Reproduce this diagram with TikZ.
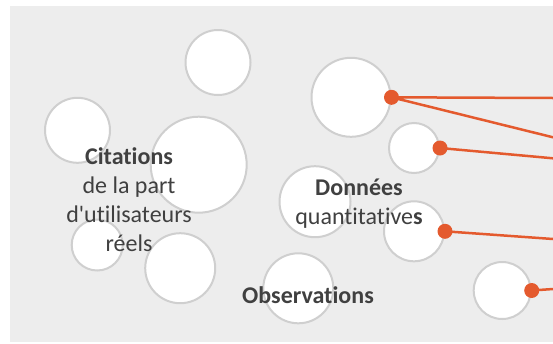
\documentclass[tikz,border=0pt]{standalone}
\usepackage{fontspec}
\setmainfont{Carlito}[Ligatures=NoCommon]
\usetikzlibrary{positioning}
\definecolor{fond}{HTML}{EDEDED}
\definecolor{bord}{HTML}{CFCFCF}
\definecolor{rouille}{HTML}{E45A2E}
\definecolor{texte}{HTML}{404040}
\tikzstyle{bulle}=[circle,draw=bord,fill=white,line width=2pt,inner sep=0pt]
\tikzstyle{point}=[circle,fill=rouille,inner sep=0pt,minimum size=15pt]
\tikzstyle{lien}=[draw=rouille,line width=2.5pt,line cap=round]
\tikzstyle{etiq}=[text=texte,font=\fontsize{24}{29}\selectfont,align=center,anchor=base,inner sep=0pt]

\begin{document}
\begin{tikzpicture}[x=1pt,y=-1pt]
  \useasboundingbox (0,0) rectangle (553,343);
  \fill[fond] (10,6) rectangle (553,342);
  %
  \node[bulle,minimum size=65pt] (b1) at (218,62.5) {};
  \node[bulle,minimum size=65pt] (b2) at (77.5,130.3) {};
  \node[bulle,minimum size=96pt] (b3) at (198.7,164.7) {};
  \node[bulle,minimum size=51pt] (b4) at (97.2,245) {};
  \node[bulle,minimum size=70pt] (b5) at (180.2,268.2) {};
  \node[bulle,minimum size=70pt] (b6) at (298.3,288.3) {};
  \node[bulle,minimum size=79pt] (b7) at (351,97.3) {};
  \node[bulle,minimum size=50pt] (b8) at (414,148) {};
  \node[bulle,minimum size=71pt] (b9) at (315,201.7) {};
  \node[bulle,minimum size=60pt] (b10) at (414,231.3) {};
  \node[bulle,minimum size=57pt] (b11) at (502.2,290.5) {};
  %
  \node[etiq] (citations) at (129,251) {\textbf{Citations}\\de la part\\d\textquotesingle utilisateurs\\réels};
  \node[etiq] (donnees) at (359,224) {\textbf{Données}\\quantitative\textbf{s}};
  \node[etiq] (observations) at (308,303) {\textbf{Observations}};
  %
  \coordinate (e1) at (553,98);
  \coordinate (e2) at (553,137.3);
  \coordinate (e3) at (553,158.3);
  \coordinate (e4) at (553,239);
  \coordinate (e5) at (553,289);
  \node[point] (p7) at (b7.east) {};
  \node[point] (p8) at (b8.east) {};
  \node[point] (p10) at (b10.east) {};
  \node[point] (p11) at (b11.east) {};
  \draw[lien] (p7.center)--(e1) (p7.center)--(e2) (p8.center)--(e3)
    (p10.center)--(e4) (p11.center)--(e5);
\end{tikzpicture}
\end{document}
